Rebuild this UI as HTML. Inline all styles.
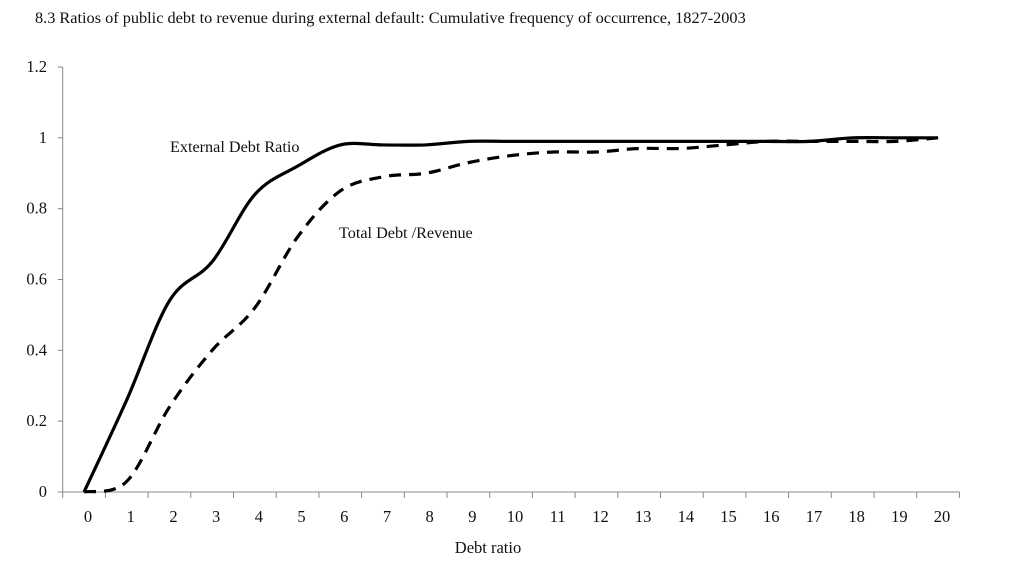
<!DOCTYPE html>
<html><head><meta charset="utf-8"><style>
body{margin:0;background:#fff;}
svg text{font-family:"Liberation Serif",serif;fill:#111;}
</style></head><body>
<svg id="chart" width="1024" height="579" xmlns="http://www.w3.org/2000/svg">
<text x="35" y="23" font-size="16.3">8.3 Ratios of public debt to revenue during external default: Cumulative frequency of occurrence, 1827-2003</text>
<g id="axes"></g>
<g id="series"></g>
<text x="170" y="152" font-size="16.2">External Debt Ratio</text>
<text x="339" y="238" font-size="16.2">Total Debt /Revenue</text>
<text x="488" y="553" font-size="16.5" text-anchor="middle">Debt ratio</text>
</svg>
<script>
const categories=[0,1,2,3,4,5,6,7,8,9,10,11,12,13,14,15,16,17,18,19,20];
const externalValues=[0,0.26,0.54,0.65,0.84,0.92,0.98,0.98,0.98,0.99,0.99,0.99,0.99,0.99,0.99,0.99,0.99,0.99,1.0,1.0,1.0];
const totalValues=[0,0.03,0.24,0.40,0.52,0.72,0.85,0.89,0.90,0.93,0.95,0.96,0.96,0.97,0.97,0.98,0.99,0.99,0.99,0.99,1.0];
const yTicks=[0,0.2,0.4,0.6,0.8,1,1.2];
const yTickLabels=["0","0.2","0.4","0.6","0.8","1","1.2"];

const NS="http://www.w3.org/2000/svg";
const x0=62.7,step=42.7,yBase=492,yTop=67;
function xs(i){return x0+step*(i+0.5);}
function ys(v){return yBase-(v/1.2)*(yBase-yTop);}
const axes=document.getElementById('axes');
function mk(tag,attrs,parent){const e=document.createElementNS(NS,tag);for(const k in attrs)e.setAttribute(k,attrs[k]);parent.appendChild(e);return e;}

const ya=mk('line',{x1:x0,y1:yTop,x2:x0,y2:yBase,stroke:'#888','stroke-width':1},axes);


const xa=mk('line',{x1:x0,y1:yBase,x2:x0+step*categories.length,y2:yBase,stroke:'#888','stroke-width':1},axes);


yTicks.forEach((v,i)=>{
  const t=mk('line',{x1:x0-5,y1:ys(v),x2:x0,y2:ys(v),stroke:'#888'},axes);
  
  
  const l=mk('text',{x:47,y:ys(v)+5,'font-size':16.5,'text-anchor':'end'},axes);
  l.textContent=yTickLabels[i];
  
  
});
for(let i=0;i<=categories.length;i++){
  const t=mk('line',{x1:x0+step*i,y1:yBase,x2:x0+step*i,y2:yBase+6,stroke:'#888'},axes);
  
  
}
categories.forEach((c,i)=>{
  const l=mk('text',{x:xs(i)+4,y:522,'font-size':16.5,'text-anchor':'middle'},axes);
  l.textContent=String(c);
  
  
});
function smoothPath(vals){
  const p=vals.map((v,i)=>[xs(i),ys(v)]);
  let d=`M${p[0][0]},${p[0][1]}`;
  for(let i=0;i<p.length-1;i++){
    const a=p[Math.max(0,i-1)],b=p[i],c=p[i+1],e=p[Math.min(p.length-1,i+2)];
    const c1=[b[0]+(c[0]-a[0])/6,b[1]+(c[1]-a[1])/6];
    const c2=[c[0]-(e[0]-b[0])/6,c[1]-(e[1]-b[1])/6];
    d+=` C${c1[0]},${c1[1]} ${c2[0]},${c2[1]} ${c[0]},${c[1]}`;
  }
  return d;
}
const ser=document.getElementById('series');
const s1=mk('path',{d:smoothPath(externalValues),fill:'none',stroke:'#000','stroke-width':3.2,'stroke-linejoin':'round'},ser);


const s2=mk('path',{d:smoothPath(totalValues),fill:'none',stroke:'#000','stroke-width':3.2,'stroke-dasharray':'12,8'},ser);


</script>
</body></html>
